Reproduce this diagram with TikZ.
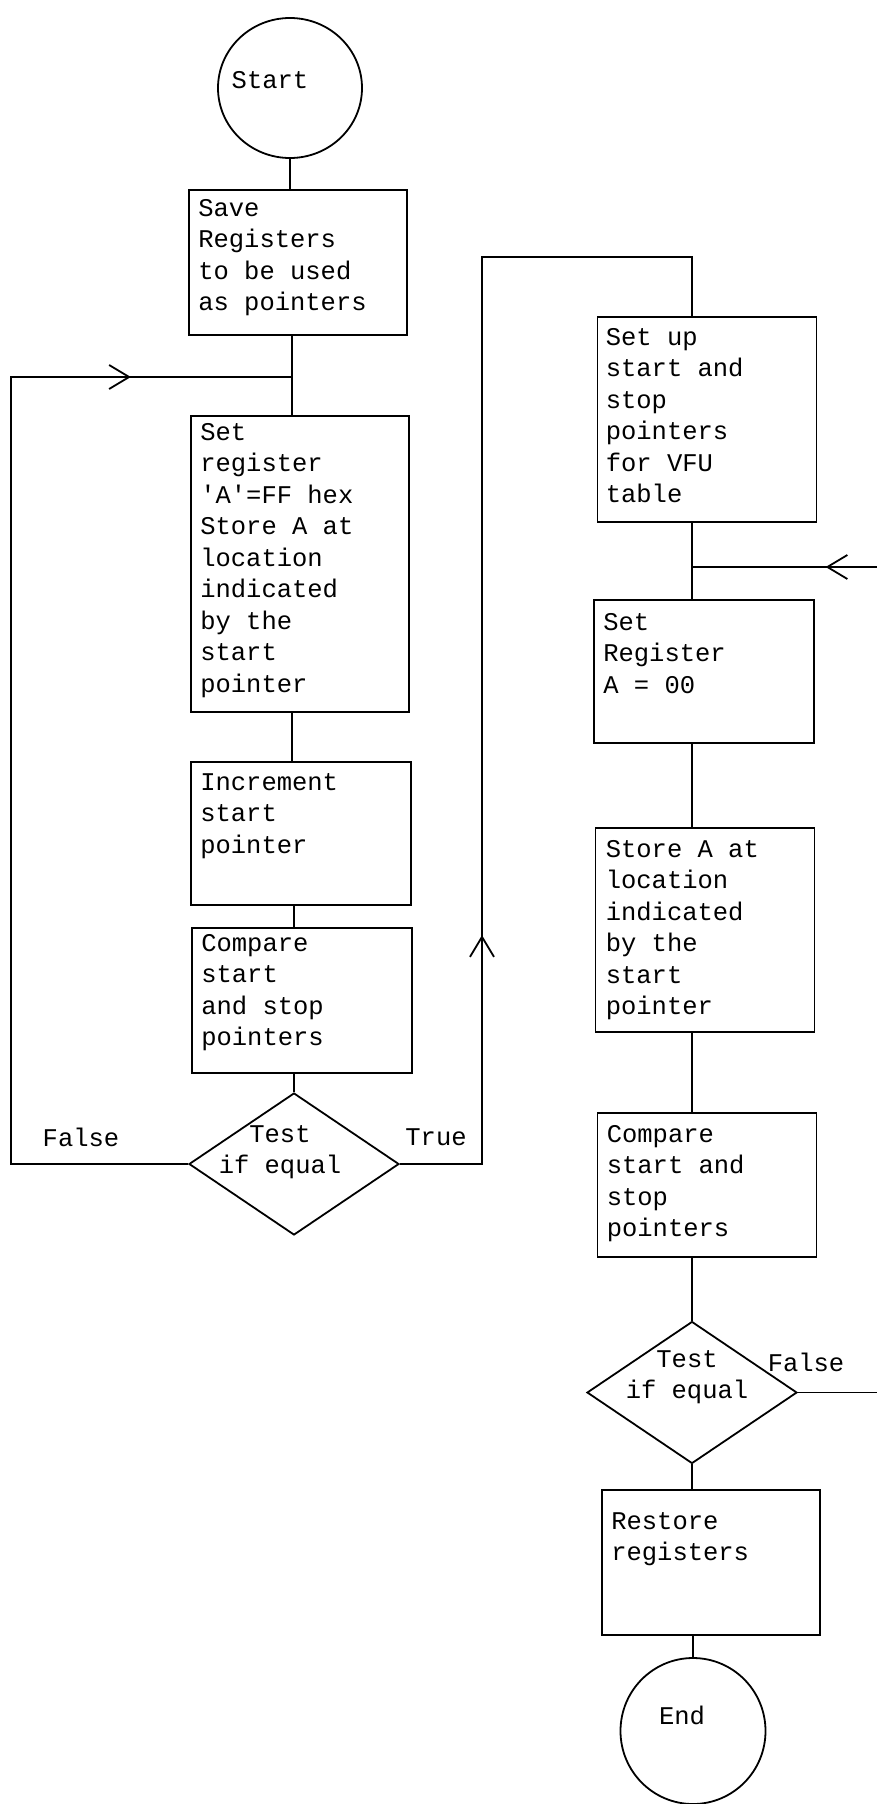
\documentclass[tikz,border=0pt]{standalone}
\usepackage{fontspec}
\newfontfamily\flowfont{Liberation Mono}
\usetikzlibrary{shapes.geometric,arrows.meta,decorations.markings}

\tikzset{
  flow/.style={line width=1.8pt},
  box/.style={draw, line width=1.8pt, minimum width=218pt, minimum height=#1, inner sep=0pt},
  boxtext/.style={anchor=north west, align=left, inner sep=0pt, font=\flowfont\fontsize{25.5}{31.5}\selectfont},
  plaintext/.style={align=center, inner sep=0pt, font=\flowfont\fontsize{25.5}{31.5}\selectfont},
  term/.style={draw, ellipse, line width=1.8pt, minimum width=144pt, minimum height=140pt, inner sep=0pt},
  decision/.style={draw, diamond, line width=1.8pt, minimum width=210pt, minimum height=142pt, inner sep=0pt},
  midarrow/.style={postaction={decorate}, decoration={markings,
      mark=at position #1 with {\arrow[line width=1.8pt]{Straight Barb[length=20pt,width=24pt]}}}},
}

\begin{document}
\begin{tikzpicture}[x=1pt,y=-1pt]
\useasboundingbox (0,0) rectangle (877,1804);

% left column
  \node[term] (start) at (290,88) {};
  \node[plaintext] (starttext) at (270,80) {Start};
  \node[box=145pt] (save) at (298,262.5) {};
  \node[boxtext] (savetext) at ([xshift=10pt,yshift=-10pt]save.north west) {Save\\Registers\\to be used\\as pointers};
  \node[box=296pt] (set) at (300,564) {};
  \node[boxtext] (settext) at ([xshift=10pt,yshift=-8pt]set.north west) {Set\\register\\'A'=FF hex\\Store A at\\location\\indicated\\by the\\start\\pointer};
  \node[box=143pt, minimum width=220pt] (incr) at (301,833.5) {};
  \node[boxtext] (incrtext) at ([xshift=10pt,yshift=-12pt]incr.north west) {Increment\\start\\pointer};
  \node[box=145pt, minimum width=220pt] (cmp) at (302,1000.5) {};
  \node[boxtext] (cmptext) at ([xshift=10pt,yshift=-7pt]cmp.north west) {Compare\\start\\and stop\\pointers};
  \node[decision] (test) at (294,1164) {};
  \node[plaintext] (testtext) at (280,1152) {Test\\if equal};

% right column
  \node[box=205pt, minimum width=219pt] (setup) at (707,419.5) {};
  \node[boxtext] (setuptext) at ([xshift=9pt,yshift=-12pt]setup.north west) {Set up\\start and\\stop\\pointers\\for VFU\\table};
  \node[box=143pt, minimum width=220pt] (setreg) at (704,671.5) {};
  \node[boxtext] (setregtext) at ([xshift=10pt,yshift=-14pt]setreg.north west) {Set\\Register\\A = 00};
  \node[box=204pt, minimum width=219pt] (store) at (705,930) {};
  \node[boxtext] (storetext) at ([xshift=11pt,yshift=-13pt]store.north west) {Store A at\\location\\indicated\\by the\\start\\pointer};
  \node[box=144pt, minimum width=219pt] (cmpb) at (707,1185) {};
  \node[boxtext] (cmpbtext) at ([xshift=10pt,yshift=-13pt]cmpb.north west) {Compare\\start and\\stop\\pointers};
  \node[decision] (testb) at (692,1392.5) {};
  \node[plaintext] (testbtext) at (687,1377) {Test\\if equal};
  \node[box=145pt] (restore) at (711,1562.5) {};
  \node[boxtext] (restoretext) at ([xshift=10pt,yshift=-23pt]restore.north west) {Restore\\registers};
  \node[term, minimum width=145pt, minimum height=146pt] (end) at (693,1731) {};
  \node[plaintext] (endtext) at (682,1715) {End};

% turning points
  \coordinate (ljoin) at (292,377);
  \coordinate (lfar) at (11,377);
  \coordinate (tturn) at (482,257);
  \coordinate (rtop) at (692,257);
  \coordinate (rjoin) at (692,567);
  \coordinate (rfar) at (900,567);

% connectors
  \draw[flow] (start) -- (start |- save.north);
  \draw[flow] (save.south -| ljoin) -- (set.north -| ljoin);
  \draw[flow] (set.south -| ljoin) -- (incr.north -| ljoin);
  \draw[flow] (incr.south -| test) -- (cmp.north -| test);
  \draw[flow] (cmp.south -| test) -- (test.north);
  \draw[flow, midarrow=1084pt] (test.west) -| (lfar) -- (ljoin);
  \draw[flow, midarrow=311pt] (test.east) -| (tturn) -- (rtop) -- (rtop |- setup.north);

  \draw[flow] (setup.south -| rtop) -- (setreg.north -| rtop);
  \draw[flow] (setreg.south -| rtop) -- (store.north -| rtop);
  \draw[flow] (store.south -| rtop) -- (cmpb.north -| rtop);
  \draw[flow] (cmpb.south -| testb) -- (testb.north);
  \draw[flow] (testb.south) -- (testb.south |- restore.north);
  \draw[flow] (restore.south -| end) -- (end.north);
  \draw[flow, midarrow=1002pt] (testb.east) -| (rfar) -- (rjoin);

% labels
  \node[plaintext] (lfalse) at (81,1137) {False};
  \node[plaintext] (ltrue) at (436,1137) {True};
  \node[plaintext] (rfalse) at (806,1362) {False};
\end{tikzpicture}
\end{document}
